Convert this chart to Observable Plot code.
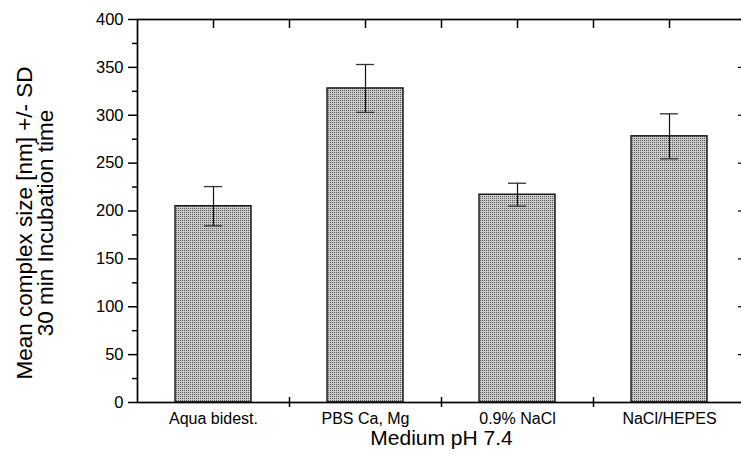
<!DOCTYPE html>
<html>
<head>
<meta charset="utf-8">
<script src="https://cdn.jsdelivr.net/npm/d3@7"></script>
<script src="https://cdn.jsdelivr.net/npm/@observablehq/plot@0.6"></script>
<style>
  html, body { margin: 0; padding: 0; background: white; }
</style>
</head>
<body>
<div id="chart"></div>
<script>
const categories = ["Aqua bidest.", "PBS Ca, Mg", "0.9% NaCl", "NaCl/HEPES"];
const means = [205, 328, 217, 278];
const sds = [20.5, 25, 12, 23.5];
const majorTicks = [0, 50, 100, 150, 200, 250, 300, 350, 400];
const minorTicks = [25, 75, 125, 175, 225, 275, 325, 375];
const xTitle = "Medium pH 7.4";
const yTitle = "Mean complex size [nm] +/- SD\n30 min Incubation time";

const data = categories.map((c, i) => ({cat: c, mean: means[i], lo: means[i] - sds[i], hi: means[i] + sds[i]}));

const font = "'Liberation Sans', Arial, Helvetica, sans-serif";

const chart = Plot.plot({
  width: 741,
  height: 457,
  marginLeft: 137,
  marginTop: 19,
  marginBottom: 55,
  marginRight: -4,
  style: {fontFamily: font, background: "white", color: "black"},
  x: {domain: categories, range: [137, 745], paddingInner: 0.5, paddingOuter: 0.25, label: null},
  y: {domain: [0, 400], range: [402, 19], label: null},
  marks: [
    Plot.barY(data, {x: "cat", y: "mean", fill: "url(#stipple)", stroke: "#111", strokeWidth: 1.4}),
    Plot.ruleX(data, {x: "cat", y1: "lo", y2: "hi", stroke: "#111", strokeWidth: 1.2}),
    Plot.tickY(data, {x: "cat", y: "hi", stroke: "#333", strokeWidth: 1.3, insetLeft: 29, insetRight: 29}),
    Plot.tickY(data, {x: "cat", y: "lo", stroke: "#333", strokeWidth: 1.3, insetLeft: 29, insetRight: 29}),
    Plot.frame({stroke: "black", strokeWidth: 1.7}),
    Plot.axisY({ticks: majorTicks, tickSize: 9, tickPadding: 5, fontSize: 16.5, strokeWidth: 1.5, label: null}),
    Plot.axisY({ticks: minorTicks, tickSize: 5, tickFormat: () => "", strokeWidth: 1.5, label: null}),
    Plot.axisY({anchor: "right", ticks: majorTicks, tickSize: -8, tickFormat: () => "", strokeWidth: 1.2, label: null}),
    Plot.axisX({anchor: "top", tickSize: -8, tickFormat: () => "", strokeWidth: 1.5, label: null}),
    Plot.axisX({anchor: "top", tickSize: -8, dx: 76, tickFormat: () => "", strokeWidth: 1.5, label: null}),
    Plot.axisX({anchor: "bottom", tickSize: 0, tickPadding: 10, fontSize: 16, label: null}),
    Plot.axisX({anchor: "bottom", tickSize: 5, dx: 76, tickFormat: () => "", strokeWidth: 1.5, label: null}),
    Plot.axisX({anchor: "bottom", tickSize: -5, dx: 76, tickFormat: () => "", strokeWidth: 1.5, label: null}),
    Plot.text([xTitle], {frameAnchor: "bottom", text: d => d, dy: 42, fontSize: 21, fill: "black", textAnchor: "middle"}),
    Plot.text([yTitle], {frameAnchor: "left", text: d => d, rotate: -90, dx: -102, dy: 12, fontSize: 22.5, lineHeight: 0.95, fill: "black", textAnchor: "middle"})
  ]
});

const ns = "http://www.w3.org/2000/svg";
const defs = document.createElementNS(ns, "defs");
defs.innerHTML = '<pattern id="stipple" width="2" height="2" patternUnits="userSpaceOnUse">' +
  '<rect width="2" height="2" fill="#cbcbcb"></rect>' +
  '<rect x="0" y="0" width="1" height="1" fill="#5a5a5a"></rect></pattern>';
chart.insertBefore(defs, chart.firstChild);
document.getElementById("chart").appendChild(chart);
</script>
</body>
</html>
